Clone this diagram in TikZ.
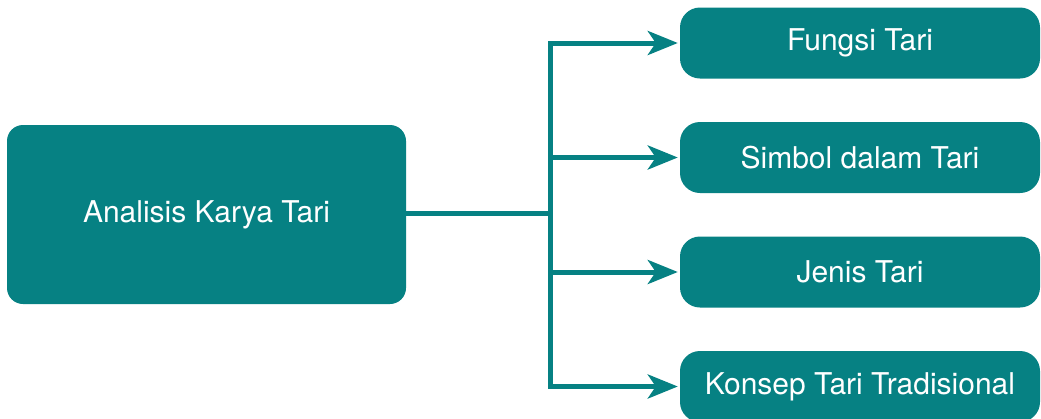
\documentclass[tikz,border=0pt]{standalone}
\usepackage{fontspec}
\setmainfont{TeX Gyre Heros}
\usetikzlibrary{arrows.meta,positioning}
\definecolor{tealbox}{RGB}{6,129,131}

\begin{document}
\begin{tikzpicture}[x=1pt, y=-1pt,
      box/.style={fill=tealbox, text=white, inner sep=0pt,
        font=\fontsize{30}{36}\selectfont},
      root/.style={box, minimum width=399pt, minimum height=179pt, rounded corners=16pt},
      leaf/.style={box, minimum width=360pt, minimum height=71pt, rounded corners=20pt},
      link/.style={draw=tealbox, line width=5pt},
      arr/.style={link, -{Stealth[length=30pt, width=24pt, inset=8pt]}}]
    \useasboundingbox (0,0) rectangle (1041,418);
    \clip (0,0) rectangle (1041,418);
    \node[root] (analisis) at (206.5,214.5) {Analisis Karya Tari};
    \node[leaf] (fungsi) at (860,43) {Fungsi Tari};
    \node[leaf] (simbol) at (860,157.5) {Simbol dalam Tari};
    \node[leaf] (jenis) at (860,272) {Jenis Tari};
    \node[leaf] (konsep) at (860,386.5) {Konsep Tari Tradisional};
    \coordinate (split) at (550,213);
    \draw[link] (analisis.east |- split) -- (split);
    \foreach \n in {fungsi,simbol,jenis,konsep}
      \draw[arr] (split) |- ([xshift=-2pt]\n.west);
\end{tikzpicture}
\end{document}
